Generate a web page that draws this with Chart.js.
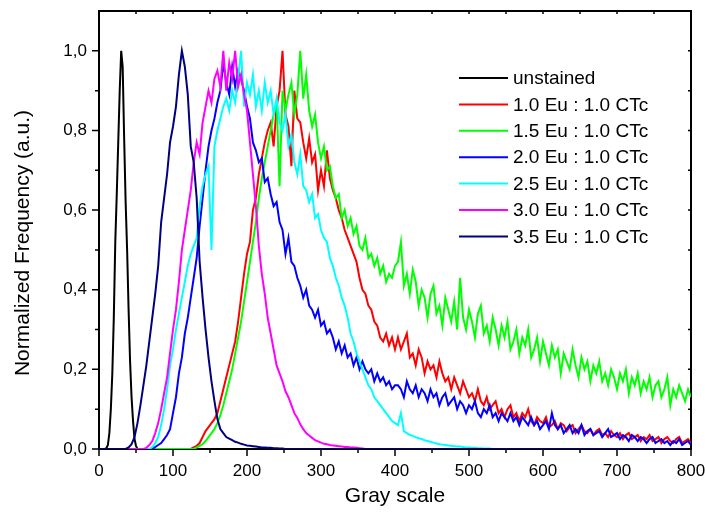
<!DOCTYPE html>
<html>
<head>
<meta charset="utf-8">
<script src="https://cdn.jsdelivr.net/npm/chart.js@4"></script>
<style>
  body { margin: 0; background: #fff; }
  canvas { display: block; }
</style>
</head>
<body>
<canvas id="chart" width="705" height="517"></canvas>
<script>
// --- Data ---
const xTicks = [0, 50, 100, 150, 200, 250, 300, 350, 400, 450, 500, 550, 600, 650, 700, 750, 800];
const yTicks = [0, 0.1, 0.2, 0.3, 0.4, 0.5, 0.6, 0.7, 0.8, 0.9, 1.0];

const seriesNames = ['unstained', '1.0 Eu : 1.0 CTc', '1.5 Eu : 1.0 CTc', '2.0 Eu : 1.0 CTc',
  '2.5 Eu : 1.0 CTc', '3.0 Eu : 1.0 CTc', '3.5 Eu : 1.0 CTc'];
const seriesColors = ['#000000', '#ff0000', '#00ff00', '#0000ff', '#00ffff', '#ff00ff', '#000080'];

// each series: first gray value, gray step, frequencies
const unstainedStart = 8, unstainedStep = 2;
const unstained = [0, 0.002, 0.01, 0.04, 0.1, 0.19, 0.33, 0.52, 0.64, 0.77, 0.9, 1.0, 0.96, 0.78, 0.62,
  0.5, 0.35, 0.22, 0.13, 0.07, 0.025, 0.008, 0];

const eu10Start = 124, eu10Step = 4;
const eu10 = [0, 0.004, 0.008, 0.015, 0.03, 0.045, 0.055, 0.065, 0.075, 0.09, 0.12, 0.15, 0.18, 0.21,
  0.24, 0.27, 0.32, 0.38, 0.44, 0.49, 0.52, 0.6, 0.63, 0.69, 0.73, 0.77, 0.8, 0.82, 0.76, 0.86, 0.9,
  1.0, 0.84, 0.81, 0.71, 0.9, 0.83, 0.82, 0.77, 0.73, 0.78, 0.72, 0.74, 0.65, 0.7, 0.66, 0.75, 0.68,
  0.65, 0.63, 0.6, 0.58, 0.55, 0.53, 0.51, 0.49, 0.47, 0.43, 0.4, 0.39, 0.36, 0.35, 0.32, 0.31, 0.28,
  0.27, 0.29, 0.26, 0.28, 0.25,
  0.28, 0.25, 0.27, 0.29, 0.23, 0.24, 0.21, 0.25, 0.23, 0.19,
  0.22, 0.2, 0.21, 0.18, 0.22, 0.19, 0.17, 0.18, 0.15, 0.18,
  0.16, 0.14, 0.17, 0.15, 0.13, 0.14, 0.12, 0.15, 0.12, 0.11,
  0.13, 0.1, 0.11, 0.12, 0.09, 0.1, 0.08, 0.1, 0.11, 0.08,
  0.09, 0.07, 0.09, 0.08, 0.1, 0.07, 0.06, 0.08, 0.07, 0.065,
  0.08, 0.055, 0.06, 0.07, 0.05, 0.065, 0.06, 0.045, 0.055, 0.06,
  0.04, 0.05, 0.06, 0.045, 0.04, 0.05, 0.035, 0.045, 0.05, 0.035,
  0.04, 0.03, 0.045, 0.035, 0.03, 0.04, 0.025, 0.035, 0.04, 0.025,
  0.03, 0.035, 0.02, 0.03, 0.025, 0.035, 0.02, 0.025, 0.03, 0.015,
  0.025, 0.03, 0.02, 0.015, 0.025, 0.03, 0.015, 0.02, 0.025, 0.015];

const eu15Start = 128, eu15Step = 4;
const eu15 = [0, 0.004, 0.008, 0.012, 0.02, 0.03, 0.04, 0.05, 0.065, 0.085, 0.11, 0.14, 0.17, 0.2,
  0.24, 0.28, 0.32, 0.37, 0.42, 0.47, 0.52, 0.57, 0.63, 0.68, 0.72, 0.76, 0.8, 0.84, 0.87, 0.66, 0.9,
  0.85, 0.89, 0.92, 0.84, 0.89, 1.0, 0.88, 0.94, 0.85, 0.81, 0.84,
  0.77, 0.73, 0.76, 0.7, 0.71, 0.66, 0.63, 0.64, 0.58, 0.6,
  0.56, 0.58, 0.54, 0.56, 0.51, 0.5, 0.53, 0.48, 0.49, 0.46,
  0.48, 0.44, 0.46, 0.42, 0.44, 0.43, 0.46,
  0.47, 0.52, 0.41, 0.44, 0.39, 0.45, 0.42, 0.36, 0.4, 0.38,
  0.33, 0.39, 0.41, 0.34, 0.36, 0.31, 0.38, 0.35, 0.32, 0.37,
  0.3, 0.43, 0.33, 0.3, 0.35, 0.32, 0.28, 0.34, 0.36, 0.29,
  0.31, 0.27, 0.33, 0.3, 0.26, 0.31, 0.28, 0.32, 0.25, 0.27,
  0.3, 0.24, 0.28, 0.26, 0.3, 0.23, 0.25, 0.28, 0.22, 0.27,
  0.24, 0.21, 0.26, 0.23, 0.25, 0.19, 0.24, 0.22, 0.2, 0.25,
  0.21, 0.18, 0.23, 0.2, 0.22, 0.17, 0.21, 0.19, 0.22, 0.17,
  0.19, 0.16, 0.2, 0.18, 0.15, 0.19, 0.17, 0.2, 0.14, 0.18,
  0.16, 0.19, 0.14, 0.17, 0.15, 0.18, 0.13, 0.16, 0.17, 0.13,
  0.15, 0.18, 0.11, 0.15, 0.13, 0.16, 0.14, 0.12, 0.15, 0.13];

const eu20Start = 72, eu20Step = 4;
const eu20 = [0, 0.005, 0.01, 0.015, 0.025, 0.035, 0.05, 0.09, 0.13, 0.19, 0.23, 0.29, 0.33, 0.38,
  0.43, 0.48, 0.56, 0.63, 0.7, 0.76, 0.8, 0.83, 0.87, 0.9, 0.97, 0.92, 0.89, 0.96, 0.91, 0.95, 0.93,
  0.9,
  0.86, 0.83, 0.77, 0.75, 0.72, 0.73, 0.67, 0.68, 0.64, 0.61,
  0.62, 0.57, 0.55, 0.49, 0.53, 0.47, 0.46, 0.43, 0.41, 0.38,
  0.4, 0.36, 0.35, 0.33, 0.35, 0.31, 0.32, 0.29, 0.3, 0.28,
  0.25, 0.27, 0.24, 0.26, 0.23, 0.24, 0.21, 0.23, 0.2, 0.22,
  0.2, 0.19, 0.2, 0.17, 0.19, 0.17, 0.18, 0.16, 0.17, 0.15,
  0.16,
  0.16, 0.15, 0.13, 0.17, 0.15, 0.14, 0.16, 0.13, 0.15, 0.14,
  0.12, 0.15, 0.13, 0.14, 0.11, 0.13, 0.14, 0.11, 0.12, 0.13,
  0.1, 0.12, 0.11, 0.09, 0.11, 0.1, 0.12, 0.09, 0.08, 0.1,
  0.09, 0.11, 0.08, 0.09, 0.07, 0.09, 0.08, 0.07, 0.09, 0.07,
  0.08, 0.06, 0.08, 0.07, 0.06, 0.08, 0.06, 0.07, 0.05, 0.06,
  0.07, 0.05, 0.09, 0.06, 0.05, 0.06, 0.04, 0.05, 0.06, 0.04,
  0.05, 0.04, 0.06, 0.035, 0.045, 0.05, 0.035, 0.04, 0.045, 0.03,
  0.04, 0.05, 0.03, 0.035, 0.04, 0.025, 0.035, 0.03, 0.02, 0.035,
  0.03, 0.02, 0.03, 0.025, 0.015, 0.025, 0.03, 0.015, 0.02, 0.025,
  0.015, 0.02, 0.01, 0.02, 0.015, 0.025, 0.01, 0.015, 0.02, 0.01];

const eu25Start = 68, eu25Step = 4;
const eu25 = [0, 0.005, 0.015, 0.03, 0.06, 0.1, 0.15, 0.21, 0.25, 0.3, 0.34, 0.38, 0.42, 0.46, 0.49,
  0.51, 0.53, 0.61, 0.66, 0.69, 0.71, 0.5, 0.76, 0.8, 0.83, 0.86, 0.88, 0.85, 0.9, 0.87, 0.93, 1.0,
  0.86, 0.92, 0.89, 0.94, 0.86, 0.9, 0.85, 0.92, 0.87, 0.9, 0.84, 0.88, 0.82, 0.8, 0.84, 0.76, 0.79,
  0.72, 0.69, 0.74, 0.66, 0.65, 0.62, 0.64, 0.58, 0.59, 0.55, 0.53, 0.52, 0.48, 0.46, 0.43, 0.41,
  0.38, 0.36, 0.33, 0.29, 0.27, 0.24, 0.22, 0.2, 0.18, 0.16, 0.15, 0.13, 0.12, 0.11, 0.1, 0.09, 0.08,
  0.07, 0.065, 0.06, 0.09, 0.045, 0.04, 0.035, 0.033, 0.03, 0.027, 0.025, 0.022, 0.02, 0.018, 0.016,
  0.014, 0.012, 0.011, 0.01, 0.009, 0.008, 0.007, 0.006, 0.006, 0.005, 0.004, 0.004, 0.003, 0.003,
  0.002, 0.002, 0.001, 0.001, 0.001, 0];

const eu30Start = 60, eu30Step = 4;
const eu30 = [0, 0.003, 0.01, 0.02, 0.04, 0.065, 0.1, 0.14, 0.18, 0.24, 0.3, 0.35, 0.42, 0.5, 0.55,
  0.6, 0.65, 0.72, 0.77, 0.74, 0.82, 0.86, 0.9, 0.87, 0.93, 0.95, 0.91, 1.0, 0.9, 0.97, 0.93, 1.0,
  0.91, 0.94, 0.89, 0.85, 0.77, 0.69, 0.61, 0.51, 0.44, 0.39, 0.33, 0.29, 0.25, 0.21, 0.19, 0.17,
  0.145, 0.13, 0.11, 0.09, 0.078, 0.062, 0.05, 0.04, 0.034, 0.028, 0.022, 0.019, 0.016, 0.013, 0.012,
  0.01, 0.009, 0.008, 0.007, 0.006, 0.005, 0.005, 0.004, 0.004, 0.003, 0.002, 0.001, 0];

const eu35Start = 36, eu35Step = 4;
const eu35 = [0, 0.004, 0.012, 0.03, 0.065, 0.11, 0.16, 0.21, 0.27, 0.33, 0.39, 0.46, 0.57, 0.63,
  0.69, 0.77, 0.81, 0.86, 0.94, 1.0, 0.96, 0.89, 0.76, 0.72, 0.63, 0.47, 0.38, 0.3, 0.23, 0.17, 0.12,
  0.075, 0.05, 0.04, 0.03, 0.026, 0.022, 0.018, 0.016, 0.013, 0.011, 0.009, 0.008, 0.007, 0.006,
  0.005, 0.004, 0.004, 0.003, 0.003, 0.002, 0.002, 0.001, 0.001, 0];

const X_MAX = 800;

function toPoints(start, step, vals) {
  const pts = [];
  if (start > 0) pts.push({ x: 0, y: 0 });
  vals.forEach((v, i) => pts.push({ x: start + i * step, y: v }));
  const last = start + (vals.length - 1) * step;
  if (last < X_MAX) pts.push({ x: X_MAX, y: 0 });
  return pts;
}

const seriesPoints = [
  toPoints(unstainedStart, unstainedStep, unstained),
  toPoints(eu10Start, eu10Step, eu10),
  toPoints(eu15Start, eu15Step, eu15),
  toPoints(eu20Start, eu20Step, eu20),
  toPoints(eu25Start, eu25Step, eu25),
  toPoints(eu30Start, eu30Step, eu30),
  toPoints(eu35Start, eu35Step, eu35)
];

const FONT = 'Liberation Sans, Arial, sans-serif';

// --- Frame, ticks, titles and legend ---
const framePlugin = {
  id: 'frame',
  beforeDatasetsDraw(chart) {
    const { ctx, chartArea: a } = chart;
    ctx.save();
    ctx.strokeStyle = '#000';
    ctx.lineWidth = 2;
    ctx.strokeRect(a.left, a.top, a.width, a.height);
    ctx.restore();
  },
  afterDraw(chart) {
    const { ctx, chartArea: a, scales: { x, y } } = chart;
    ctx.save();
    ctx.strokeStyle = '#000';
    ctx.lineWidth = 1.5;
    ctx.beginPath();
    xTicks.forEach(v => {
      const px = x.getPixelForValue(v);
      const major = v % 100 === 0;
      ctx.moveTo(px, a.bottom);
      ctx.lineTo(px, a.bottom + (major ? 7 : 4));
      ctx.moveTo(px, a.top);
      ctx.lineTo(px, a.top + 3);
    });
    yTicks.forEach(v => {
      const py = y.getPixelForValue(v);
      const major = Math.round(v * 10) % 2 === 0;
      ctx.moveTo(a.left, py);
      ctx.lineTo(a.left - (major ? 7 : 4), py);
      ctx.moveTo(a.right, py);
      ctx.lineTo(a.right - 3, py);
    });
    ctx.stroke();

    // axis titles
    ctx.fillStyle = '#000';
    ctx.font = '21px ' + FONT;
    ctx.textAlign = 'center';
    ctx.textBaseline = 'middle';
    ctx.fillText('Gray scale', 395, 496);
    ctx.save();
    ctx.translate(23, 243);
    ctx.rotate(-Math.PI / 2);
    ctx.fillText('Normalized Frequency (a.u.)', 0, 0);
    ctx.restore();

    // legend
    ctx.font = '19px ' + FONT;
    ctx.textAlign = 'left';
    chart.data.datasets.forEach((ds, i) => {
      const ly = 78 + i * 26.4;
      ctx.strokeStyle = ds.borderColor;
      ctx.lineWidth = 2;
      ctx.beginPath();
      ctx.moveTo(459, ly);
      ctx.lineTo(508, ly);
      ctx.stroke();
      ctx.fillStyle = '#000';
      ctx.fillText(ds.label, 513, ly + 1);
    });
    ctx.restore();
  }
};

new Chart(document.getElementById('chart'), {
  type: 'line',
  data: {
    datasets: seriesNames.map((name, i) => ({
      label: name,
      data: seriesPoints[i],
      borderColor: seriesColors[i],
      borderWidth: 2,
      pointRadius: 0,
      tension: 0,
      order: seriesNames.length - 1 - i
    }))
  },
  options: {
    responsive: false,
    animation: false,
    layout: { padding: { top: 11, right: 14, left: 0, bottom: 0 } },
    plugins: { legend: { display: false }, tooltip: { enabled: false } },
    scales: {
      x: {
        type: 'linear',
        min: 0,
        max: X_MAX,
        afterBuildTicks: s => { s.ticks = xTicks.map(v => ({ value: v })); },
        afterFit: s => { s.height = 68; s.paddingLeft = 0; s.paddingRight = 0; },
        grid: { display: false, drawTicks: false },
        border: { display: false },
        ticks: {
          padding: 12,
          maxRotation: 0,
          autoSkip: false,
          color: '#000',
          font: { family: FONT, size: 17 },
          callback: v => (v % 100 === 0 ? String(v) : '')
        }
      },
      y: {
        type: 'linear',
        min: 0,
        max: 1.1,
        afterBuildTicks: s => { s.ticks = yTicks.map(v => ({ value: v })); },
        afterFit: s => { s.width = 99; s.paddingTop = 0; s.paddingBottom = 0; },
        grid: { display: false, drawTicks: false },
        border: { display: false },
        ticks: {
          padding: 12,
          autoSkip: false,
          color: '#000',
          font: { family: FONT, size: 17 },
          callback: v => (Math.round(v * 10) % 2 === 0 ? v.toFixed(1).replace('.', ',') : '')
        }
      }
    }
  },
  plugins: [framePlugin]
});
</script>
</body>
</html>
